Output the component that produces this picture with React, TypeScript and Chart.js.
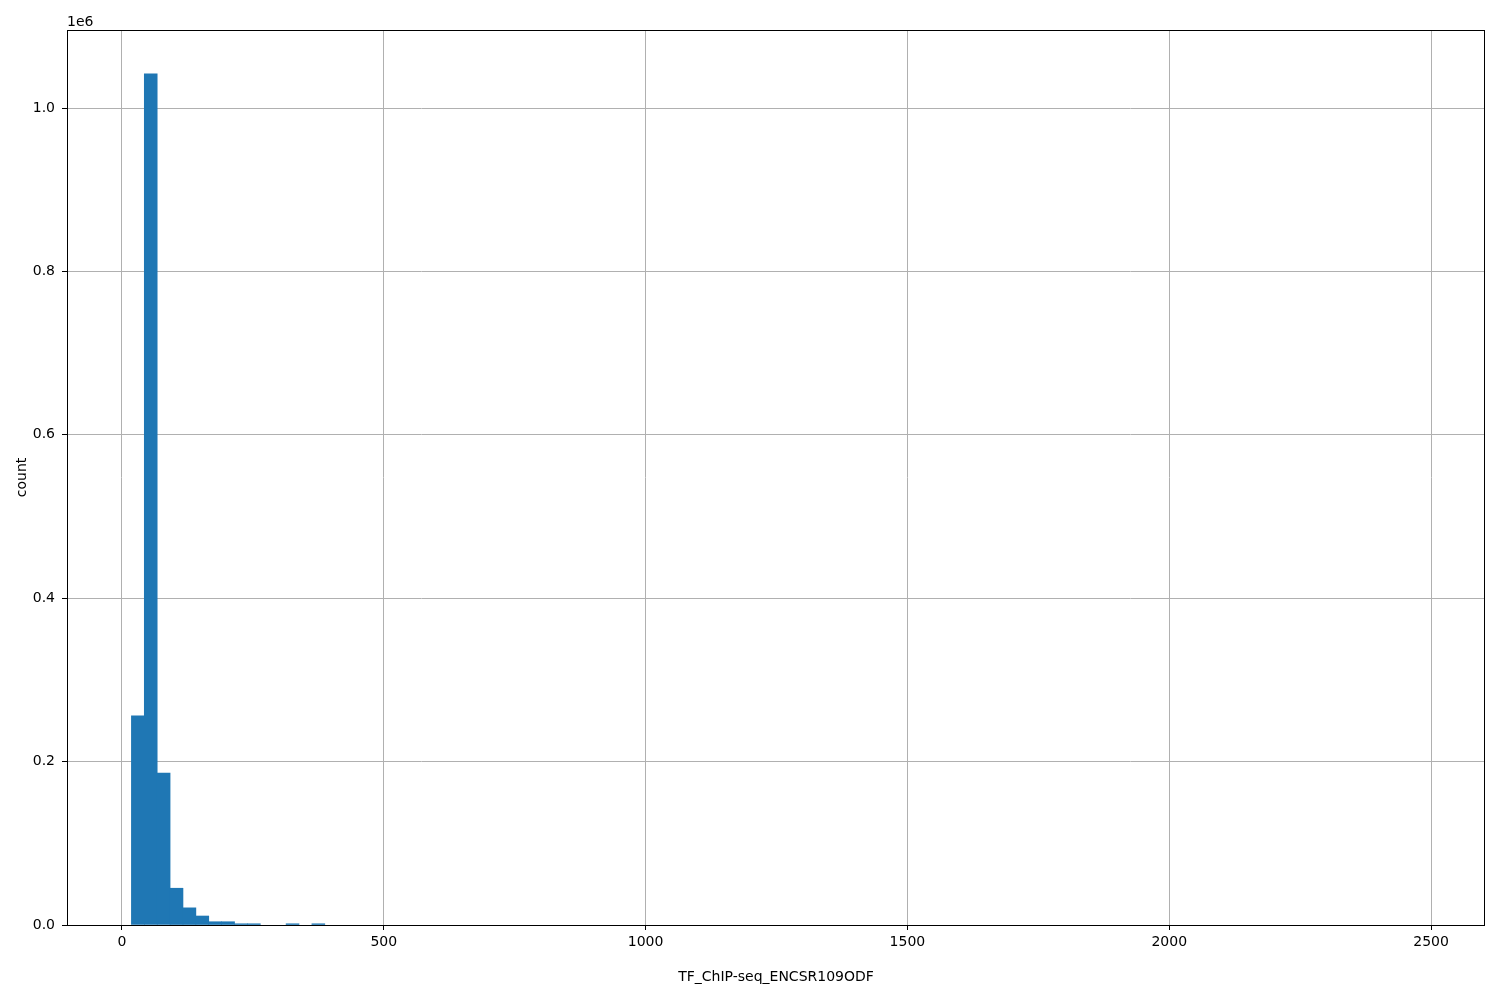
import React, { useEffect, useRef } from "react";
import { Chart, registerables } from "chart.js";

Chart.register(...registerables);

// Histogram definition (bin edges) and counts
const binStart = 18;
const binWidth = 24.62;
const counts: number[] = [
  256000, 1042000, 186000, 45000, 21000, 11000, 4000, 4000, 1500, 1500,
  0, 0, 1500, 0, 1500, 0, 0, 0, 0, 0,
  0, 0, 0, 0, 0, 0, 0, 0, 0, 0,
  0, 0, 0, 0, 0, 0, 0, 0, 0, 0,
  0, 0, 0, 0, 0, 0, 0, 0, 0, 0,
  0, 0, 0, 0, 0, 0, 0, 0, 0, 0,
  0, 0, 0, 0, 0, 0, 0, 0, 0, 0,
  0, 0, 0, 0, 0, 0, 0, 0, 0, 0,
  0, 0, 0, 0, 0, 0, 0, 0, 0, 0,
  0, 0, 0, 0, 0, 0, 0, 0, 0, 0,
];
const xTicks = [0, 500, 1000, 1500, 2000, 2500];
const yTicks = [0, 200000, 400000, 600000, 800000, 1000000];
const xLabel = "TF_ChIP-seq_ENCSR109ODF";
const yLabel = "count";
const offsetText = "1e6";

const FONT = "'DejaVu Sans', sans-serif";

export default function App() {
  const ref = useRef<HTMLCanvasElement | null>(null);
  useEffect(() => {
    if (!ref.current) return;
    const data = counts.map((c, i) => ({ x: binStart + (i + 0.5) * binWidth, y: c > 0 ? c : null }));
    const framePlugin = {
      id: "frame",
      afterDraw(chart: any) {
        const { ctx, chartArea } = chart;
        ctx.save();
        ctx.strokeStyle = "#000";
        ctx.lineWidth = 1;
        ctx.strokeRect(chartArea.left + 0.5, chartArea.top + 0.5, chartArea.right - chartArea.left - 1, chartArea.bottom - chartArea.top);
        ctx.fillStyle = "#000";
        ctx.font = `14px ${FONT}`;
        ctx.textAlign = "left";
        ctx.textBaseline = "bottom";
        ctx.fillText(offsetText, chartArea.left, chartArea.top - 1);
        ctx.restore();
      },
    };
    const chart = new Chart(ref.current, {
      type: "bar",
      data: {
        datasets: [
          {
            data: data as any,
            backgroundColor: "#1f77b4",
            borderWidth: 0,
            barPercentage: 1,
            categoryPercentage: 1,
          },
        ],
      },
      options: {
        animation: false,
        responsive: true,
        maintainAspectRatio: false,
        layout: { padding: { left: 0, right: 15, top: 30, bottom: 0 } },
        plugins: { legend: { display: false }, tooltip: { enabled: false } },
        scales: {
          x: {
            type: "linear",
            min: -105,
            max: 2603,
            offset: false,
            z: 1,
            afterBuildTicks: (s: any) => {
              s.ticks = xTicks.map((v) => ({ value: v }));
            },
            afterFit: (s: any) => {
              s.height = 75;
            },
            grid: { offset: false, color: "#b0b0b0", lineWidth: 1, tickLength: 5, tickColor: "#000", drawTicks: true },
            border: { display: false },
            ticks: {
              color: "#000",
              font: { family: FONT, size: 14 },
              padding: 4,
              maxRotation: 0,
              autoSkip: false,
              callback: (v: any) => String(v),
            },
            title: { display: true, text: xLabel, color: "#000", font: { family: FONT, size: 14 }, padding: { top: 0, bottom: 14 } },
          },
          y: {
            type: "linear",
            min: 0,
            max: 1095500,
            z: 1,
            afterBuildTicks: (s: any) => {
              s.ticks = yTicks.map((v) => ({ value: v }));
            },
            afterFit: (s: any) => {
              s.width = 67;
            },
            grid: { color: "#b0b0b0", lineWidth: 1, tickLength: 5, tickColor: "#000", drawTicks: true },
            border: { display: false },
            ticks: {
              color: "#000",
              font: { family: FONT, size: 14 },
              padding: 7,
              autoSkip: false,
              callback: (v: any) => (Number(v) / 1e6).toFixed(1),
            },
            title: { display: true, text: yLabel, color: "#000", font: { family: FONT, size: 14 }, padding: { top: 14, bottom: 0 } },
          },
        },
      },
      plugins: [framePlugin],
    });
    return () => chart.destroy();
  }, []);
  return (
    <div style={{ position: "absolute", left: 0, top: 0, width: 1500, height: 1000, background: "#fff" }}>
      <canvas ref={ref} />
    </div>
  );
}
